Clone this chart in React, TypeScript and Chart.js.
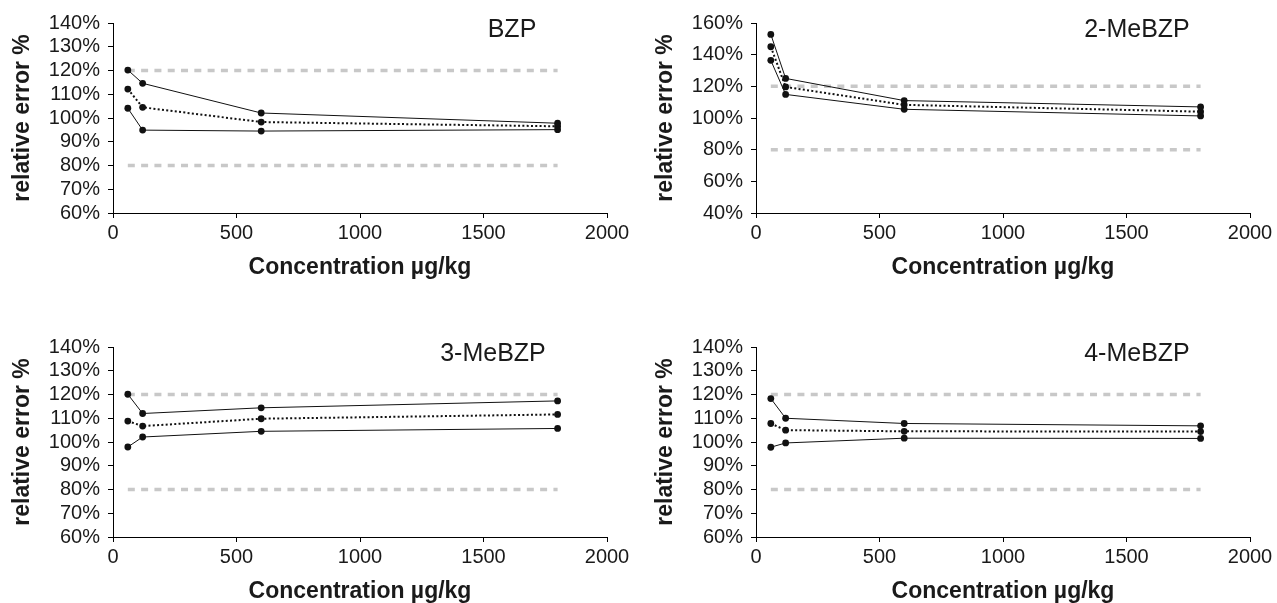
import React, { useEffect, useRef } from 'react';
import { Chart, registerables } from 'chart.js';

Chart.register(...registerables);

// ---------- data ----------
const concentrations = [60, 120, 600, 1800];
const limitRange = [60, 1800];
const upperLimit = 120;
const lowerLimit = 80;

const bzpUpper = [120.2, 114.6, 102.1, 97.8];
const bzpMean = [112.2, 104.5, 98.3, 96.5];
const bzpLower = [104.1, 94.9, 94.5, 95.1];

const me2Upper = [152.8, 125.0, 111.0, 107.0];
const me2Mean = [145.0, 119.6, 108.3, 104.0];
const me2Lower = [136.4, 114.9, 105.5, 101.3];

const me3Upper = [120.1, 112.0, 114.4, 117.3];
const me3Mean = [108.8, 106.7, 109.8, 111.6];
const me3Lower = [97.9, 102.1, 104.5, 105.7];

const me4Upper = [118.3, 110.0, 107.8, 106.8];
const me4Mean = [107.8, 105.0, 104.5, 104.4];
const me4Lower = [97.8, 99.6, 101.6, 101.5];

const panelNames = ['BZP', '2-MeBZP', '3-MeBZP', '4-MeBZP'];
const yMins = [60, 40, 60, 60];
const yMaxs = [140, 160, 140, 140];
const ySteps = [10, 20, 10, 10];
const xMin = 0;
const xMax = 2000;
const xStep = 500;

const xTitle = 'Concentration µg/kg';
const yTitle = 'relative error %';

// ---------- styling ----------
const FONT = "'Liberation Sans', Arial, Helvetica, sans-serif";
const INK = '#1a1a1a';

const panelLabelPlugin = {
  id: 'panelLabel',
  afterDraw(chart: any, _args: any, opts: any) {
    const { ctx, chartArea } = chart;
    ctx.save();
    ctx.font = `25px ${FONT}`;
    ctx.fillStyle = INK;
    ctx.textAlign = 'center';
    ctx.textBaseline = 'middle';
    ctx.fillText(opts.text, chartArea.left + opts.dx, chartArea.top + opts.dy);
    ctx.restore();
  },
};

type PanelProps = {
  name: string;
  upper: number[];
  mean: number[];
  lower: number[];
  yMin: number;
  yMax: number;
  yStep: number;
  left: number;
  top: number;
  labelDx: number;
};

function Panel(p: PanelProps) {
  const ref = useRef<HTMLCanvasElement | null>(null);
  useEffect(() => {
    if (!ref.current) return;
    const pts = (arr: number[]) => concentrations.map((x, i) => ({ x, y: arr[i] }));
    const limit = (v: number) => limitRange.map((x) => ({ x, y: v }));
    const seriesBase = {
      borderColor: '#111',
      pointBackgroundColor: '#111',
      pointBorderWidth: 0,
      pointRadius: 3.4,
      tension: 0,
      order: 0,
    };
    const limitBase = {
      borderColor: '#c8c8c8',
      borderWidth: 3.5,
      borderDash: [7, 6.3],
      pointRadius: 0,
      order: 5,
    };
    const chart = new Chart(ref.current, {
      type: 'line',
      data: {
        datasets: [
          { ...limitBase, data: limit(upperLimit) },
          { ...limitBase, data: limit(lowerLimit) },
          { ...seriesBase, data: pts(p.upper), borderWidth: 1 },
          { ...seriesBase, data: pts(p.mean), borderWidth: 2, borderDash: [2, 2.3] },
          { ...seriesBase, data: pts(p.lower), borderWidth: 1 },
        ],
      },
      options: {
        responsive: false,
        animation: false,
        events: [],
        layout: { padding: { top: 23, right: 33, bottom: 19, left: 0 } },
        plugins: {
          legend: { display: false },
          tooltip: { enabled: false },
          panelLabel: { text: p.name, dx: p.labelDx, dy: 7 },
        } as any,
        scales: {
          x: {
            type: 'linear',
            min: xMin,
            max: xMax,
            ticks: {
              stepSize: xStep,
              font: { family: FONT, size: 20 },
              color: INK,
              padding: 3,
              maxRotation: 0,
              autoSkip: false,
              callback: (v: any) => String(v),
            },
            grid: { drawOnChartArea: false, drawTicks: true, tickLength: 5, color: '#000' },
            border: { color: '#000', width: 1 },
            title: {
              display: true,
              text: xTitle,
              color: INK,
              font: { family: FONT, size: 23, weight: 'bold' },
              padding: { top: 0, bottom: 0 },
            },
            afterFit: (s: any) => {
              s.height = 68;
            },
          },
          y: {
            type: 'linear',
            min: p.yMin,
            max: p.yMax,
            ticks: {
              stepSize: p.yStep,
              font: { family: FONT, size: 20 },
              color: INK,
              padding: 8,
              autoSkip: false,
              callback: (v: any) => `${v}%`,
            },
            grid: { drawOnChartArea: false, drawTicks: true, tickLength: 5, color: '#000' },
            border: { color: '#000', width: 1 },
            title: {
              display: true,
              text: yTitle,
              color: INK,
              font: { family: FONT, size: 23, weight: 'bold' },
              padding: { top: 9, bottom: 0 },
            },
            afterFit: (s: any) => {
              s.width = 113;
            },
          },
        } as any,
      },
      plugins: [panelLabelPlugin],
    });
    return () => chart.destroy();
  }, []);
  return (
    <canvas
      ref={ref}
      width={640}
      height={300}
      style={{ position: 'absolute', left: p.left, top: p.top, width: 640, height: 300 }}
    />
  );
}

export default function App() {
  return (
    <div
      style={{
        position: 'fixed',
        left: 0,
        top: 0,
        width: 1277,
        height: 603,
        overflow: 'hidden',
        background: '#fff',
      }}
    >
      <Panel name={panelNames[0]} upper={bzpUpper} mean={bzpMean} lower={bzpLower}
        yMin={yMins[0]} yMax={yMaxs[0]} yStep={ySteps[0]} left={0} top={0} labelDx={399} />
      <Panel name={panelNames[1]} upper={me2Upper} mean={me2Mean} lower={me2Lower}
        yMin={yMins[1]} yMax={yMaxs[1]} yStep={ySteps[1]} left={643} top={0} labelDx={381} />
      <Panel name={panelNames[2]} upper={me3Upper} mean={me3Mean} lower={me3Lower}
        yMin={yMins[2]} yMax={yMaxs[2]} yStep={ySteps[2]} left={0} top={324} labelDx={380} />
      <Panel name={panelNames[3]} upper={me4Upper} mean={me4Mean} lower={me4Lower}
        yMin={yMins[3]} yMax={yMaxs[3]} yStep={ySteps[3]} left={643} top={324} labelDx={381} />
    </div>
  );
}
